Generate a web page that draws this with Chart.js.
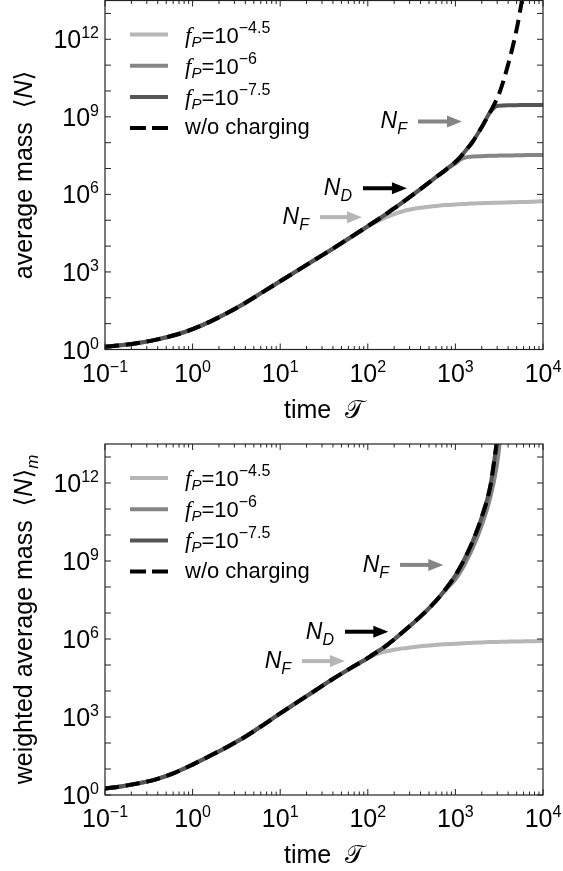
<!DOCTYPE html>
<html>
<head>
<meta charset="utf-8">
<script src="https://cdn.jsdelivr.net/npm/chart.js@4.4.0/dist/chart.umd.min.js"></script>
<style>
  html, body { margin: 0; padding: 0; background: #fff; }
  #wrap { position: relative; width: 563px; height: 871px; }
  canvas { position: absolute; left: 0; }
  #avg { top: 0; }
  #wavg { top: 435px; }
</style>
</head>
<body>
<div id="wrap">
  <canvas id="avg" width="563" height="435"></canvas>
  <canvas id="wavg" width="563" height="436"></canvas>
</div>
<script>
// all curves are stored as log10 values (time and mass)
const logTauTop = [-1, -0.8, -0.6, -0.4, -0.2, 0, 0.2, 0.4, 0.6, 0.8, 1, 1.2, 1.4, 1.6, 1.8,
  2, 2.1, 2.2, 2.3, 2.4, 2.6, 2.8, 2.9, 3, 3.05, 3.1, 3.15, 3.2, 3.3, 3.4, 3.45, 3.5, 3.6, 3.7, 3.76, 3.8, 4];
const avgLight = [0.11, 0.17, 0.26, 0.39, 0.56, 0.79, 1.08, 1.42, 1.80, 2.22, 2.64, 3.06, 3.48, 3.90, 4.33,
  4.75, 4.94, 5.10, 5.24, 5.35, 5.48, 5.56, 5.59, 5.61, 5.62, 5.63, 5.64, 5.65, 5.66, 5.67, 5.68, 5.68, 5.69, 5.70, 5.71, 5.71, 5.73];
const avgMedium = [0.11, 0.17, 0.26, 0.39, 0.56, 0.79, 1.08, 1.42, 1.80, 2.22, 2.64, 3.06, 3.48, 3.90, 4.33,
  4.77, 4.99, 5.22, 5.46, 5.70, 6.20, 6.72, 6.98, 7.20, 7.33, 7.41, 7.45, 7.47, 7.48, 7.49, 7.49, 7.50, 7.50, 7.51, 7.51, 7.52, 7.52];
const avgDark = [0.11, 0.17, 0.26, 0.39, 0.56, 0.79, 1.08, 1.42, 1.80, 2.22, 2.64, 3.06, 3.48, 3.90, 4.33,
  4.77, 4.99, 5.22, 5.46, 5.70, 6.20, 6.72, 6.98, 7.25, 7.42, 7.62, 7.83, 8.05, 8.60, 9.20, 9.38, 9.43, 9.45, 9.45, 9.46, 9.46, 9.46];
const avgNoCharge = [0.11, 0.17, 0.26, 0.39, 0.56, 0.79, 1.08, 1.42, 1.80, 2.22, 2.64, 3.06, 3.48, 3.90, 4.33,
  4.77, 4.99, 5.22, 5.46, 5.70, 6.20, 6.72, 6.98, 7.25, 7.42, 7.62, 7.83, 8.05, 8.60, 9.20, 9.53, 9.90, 11.0, 12.4, 13.5, null, null];

const logTauBottom = [-1, -0.8, -0.6, -0.4, -0.2, 0, 0.2, 0.4, 0.6, 0.8, 1, 1.2, 1.4, 1.6, 1.8,
  2, 2.1, 2.2, 2.3, 2.4, 2.5, 2.6, 2.7, 2.8, 2.9, 3, 3.1, 3.2, 3.3, 3.4, 3.47, 3.505, 3.6, 3.8, 4];
const wavgLight = [0.25, 0.34, 0.46, 0.62, 0.86, 1.17, 1.51, 1.86, 2.24, 2.68, 3.14, 3.58, 4.02, 4.46, 4.87,
  5.26, 5.42, 5.52, 5.59, 5.64, 5.68, 5.72, 5.75, 5.78, 5.80, 5.82, 5.84, 5.86, 5.87, 5.88, 5.88, 5.89, 5.90, 5.91, 5.92];
const wavgMedium = [0.25, 0.34, 0.46, 0.62, 0.86, 1.17, 1.51, 1.86, 2.24, 2.68, 3.14, 3.58, 4.02, 4.46, 4.87,
  5.27, 5.49, 5.72, 5.98, 6.27, 6.56, 6.86, 7.19, 7.55, 7.93, 8.30, 8.84, 9.52, 10.37, 11.47, 12.62, 13.5, null, null, null];
const wavgDark = [0.25, 0.34, 0.46, 0.62, 0.86, 1.17, 1.51, 1.86, 2.24, 2.68, 3.14, 3.58, 4.02, 4.46, 4.87,
  5.27, 5.49, 5.72, 5.98, 6.27, 6.56, 6.86, 7.19, 7.55, 7.97, 8.45, 9.05, 9.78, 10.68, 11.9, 13.5, null, null, null, null];
const wavgNoCharge = [0.25, 0.34, 0.46, 0.62, 0.86, 1.17, 1.51, 1.86, 2.24, 2.68, 3.14, 3.58, 4.02, 4.46, 4.87,
  5.27, 5.49, 5.72, 5.98, 6.27, 6.56, 6.86, 7.19, 7.55, 7.97, 8.45, 9.05, 9.78, 10.68, 11.9, 13.5, null, null, null, null];

const fpExponents = ['\u22124.5', '\u22126', '\u22127.5'];
const noChargeLabel = 'w/o charging';
const xTickExps = [-1, 0, 1, 2, 3, 4];
const yTickExps = [0, 3, 6, 9, 12];

const LIGHT = '#b6b6b6', MEDIUM = '#858585', DARK = '#555555';
const SANS = '"Liberation Sans", "DejaVu Sans", sans-serif';

function toPoints(tau, vals) {
  const pts = [];
  tau.forEach((t, i) => {
    if (vals[i] !== null) pts.push({ x: Math.pow(10, t), y: Math.pow(10, vals[i]) });
  });
  return pts;
}

// draws a run of text pieces [text, font, dy] starting at x
function rich(ctx, parts, x, y, align) {
  let w = 0;
  parts.forEach(p => { ctx.font = p[1]; w += ctx.measureText(p[0]).width; });
  let cx = align === 'right' ? x - w : align === 'center' ? x - w / 2 : x;
  parts.forEach(p => {
    ctx.font = p[1];
    ctx.fillText(p[0], cx, y + (p[2] || 0));
    cx += ctx.measureText(p[0]).width;
  });
  return w;
}

function arrow(ctx, x0, x1, y, color) {
  ctx.strokeStyle = color;
  ctx.fillStyle = color;
  ctx.lineWidth = 4;
  ctx.setLineDash([]);
  ctx.beginPath();
  ctx.moveTo(x0, y);
  ctx.lineTo(x1 - 12, y);
  ctx.stroke();
  ctx.beginPath();
  ctx.moveTo(x1, y);
  ctx.lineTo(x1 - 15, y - 6);
  ctx.lineTo(x1 - 15, y + 6);
  ctx.closePath();
  ctx.fill();
}

const inkPlugin = {
  id: 'ink',
  afterDatasetsDraw(chart, args, opts) {
    const ctx = chart.ctx, a = chart.chartArea;
    const xs = chart.scales.x, ys = chart.scales.y;
    ctx.save();
    ctx.fillStyle = '#000';
    ctx.textBaseline = 'alphabetic';

    // frame
    ctx.strokeStyle = '#222';
    ctx.lineWidth = 1.2;
    ctx.strokeRect(a.left, a.top, a.right - a.left, a.bottom - a.top);

    // inward ticks
    ctx.lineWidth = 1;
    ctx.beginPath();
    for (let k = -1; k <= 4; k++) {
      for (let m = 1; m <= 9; m++) {
        if (k === 4 && m > 1) break;
        const px = xs.getPixelForValue(m * Math.pow(10, k));
        const len = m === 1 ? 6 : 3.5;
        ctx.moveTo(px, a.bottom); ctx.lineTo(px, a.bottom - len);
        ctx.moveTo(px, a.top); ctx.lineTo(px, a.top + len);
      }
    }
    for (let k = 0; k <= 13; k++) {
      const py = ys.getPixelForValue(Math.pow(10, k));
      ctx.moveTo(a.left, py); ctx.lineTo(a.left + 6, py);
      ctx.moveTo(a.right, py); ctx.lineTo(a.right - 6, py);
    }
    ctx.stroke();

    // tick labels
    const big = '25px ' + SANS, sup = '16px ' + SANS;
    xTickExps.forEach(e => {
      const px = xs.getPixelForValue(Math.pow(10, e));
      rich(ctx, [['10', big], [e < 0 ? '\u2212' + (-e) : String(e), sup, -10]], px, a.bottom + 32, 'center');
    });
    yTickExps.forEach(e => {
      const py = ys.getPixelForValue(Math.pow(10, e));
      rich(ctx, [['10', big], [String(e), sup, -10]], a.left - 6, py + 9, 'right');
    });

    // axis titles
    rich(ctx, [['time  ', big], ['\uD835\uDCAF', big]], (a.left + a.right) / 2, a.bottom + 68, 'center');
    ctx.save();
    ctx.translate(32, (a.top + a.bottom) / 2);
    ctx.rotate(-Math.PI / 2);
    rich(ctx, opts.yTitle, 0, 0, 'center');
    ctx.restore();

    // legend
    const rows = [LIGHT, MEDIUM, DARK, '#000'];
    rows.forEach((c, i) => {
      const ry = a.top + 34 + i * 31.2;
      ctx.strokeStyle = c;
      ctx.lineWidth = 4;
      ctx.setLineDash(i === 3 ? [16, 6] : []);
      ctx.beginPath();
      ctx.moveTo(130, ry); ctx.lineTo(168, ry);
      ctx.stroke();
      ctx.setLineDash([]);
      ctx.fillStyle = '#000';
      if (i < 3) {
        rich(ctx, [
          ['f', 'italic 23px "Liberation Serif", serif'],
          ['P', 'italic 15px ' + SANS, 4],
          ['=10', '22px ' + SANS],
          [fpExponents[i], '16px ' + SANS, -10]
        ], 185, ry + 8, 'left');
      } else {
        rich(ctx, [[noChargeLabel, '22px ' + SANS]], 185, ry + 6, 'left');
      }
    });

    // N_F / N_D markers
    opts.marks.forEach(mk => {
      const x0 = xs.getPixelForValue(Math.pow(10, mk.x0));
      const x1 = xs.getPixelForValue(Math.pow(10, mk.x1));
      const y = ys.getPixelForValue(Math.pow(10, mk.y));
      arrow(ctx, x0, x1, y, mk.color);
      ctx.fillStyle = '#000';
      rich(ctx, [['N', 'italic 23px ' + SANS], [mk.sub, 'italic 16px ' + SANS, 6]], x0 - 11, y + 7, 'right');
    });
    ctx.restore();
  }
};

function makePanel(id, tau, series, pad, ink) {
  const styles = [
    { color: LIGHT, order: 3 },
    { color: MEDIUM, order: 2 },
    { color: DARK, order: 1 },
    { color: '#000', order: 0, dash: [14, 7] }
  ];
  return new Chart(document.getElementById(id), {
    type: 'line',
    data: {
      datasets: series.map((vals, i) => ({
        data: toPoints(tau, vals),
        borderColor: styles[i].color,
        borderWidth: 4,
        borderDash: styles[i].dash || [],
        order: styles[i].order,
        pointRadius: 0,
        fill: false,
        cubicInterpolationMode: 'monotone'
      }))
    },
    options: {
      responsive: false,
      animation: false,
      devicePixelRatio: 1,
      events: [],
      layout: { padding: pad },
      scales: {
        x: { type: 'logarithmic', min: 0.1, max: 1e4, display: false },
        y: { type: 'logarithmic', min: 1, max: Math.pow(10, 13.5), display: false }
      },
      plugins: { legend: { display: false }, tooltip: { enabled: false }, ink: ink }
    },
    plugins: [inkPlugin]
  });
}

const titleFont = '25px ' + SANS;
makePanel('avg', logTauTop, [avgLight, avgMedium, avgDark, avgNoCharge],
  { left: 105, right: 20, top: 0.5, bottom: 85.5 },
  {
    yTitle: [['average mass  \u27E8', titleFont], ['N', 'italic ' + titleFont], ['\u27E9', titleFont]],
    marks: [
      { sub: 'F', color: LIGHT, x0: 1.454, x1: 1.934, y: 5.12 },
      { sub: 'D', color: '#000', x0: 1.945, x1: 2.447, y: 6.235 },
      { sub: 'F', color: MEDIUM, x0: 2.573, x1: 3.075, y: 8.82 }
    ]
  });

makePanel('wavg', logTauBottom, [wavgLight, wavgMedium, wavgDark, wavgNoCharge],
  { left: 105, right: 20, top: 9, bottom: 76 },
  {
    yTitle: [['weighted average mass  \u27E8', titleFont], ['N', 'italic ' + titleFont], ['\u27E9', titleFont],
      ['m', 'italic 17px ' + SANS, 6]],
    marks: [
      { sub: 'F', color: LIGHT, x0: 1.249, x1: 1.740, y: 5.15 },
      { sub: 'D', color: '#000', x0: 1.740, x1: 2.234, y: 6.28 },
      { sub: 'F', color: MEDIUM, x0: 2.368, x1: 2.862, y: 8.85 }
    ]
  });
</script>
</body>
</html>
